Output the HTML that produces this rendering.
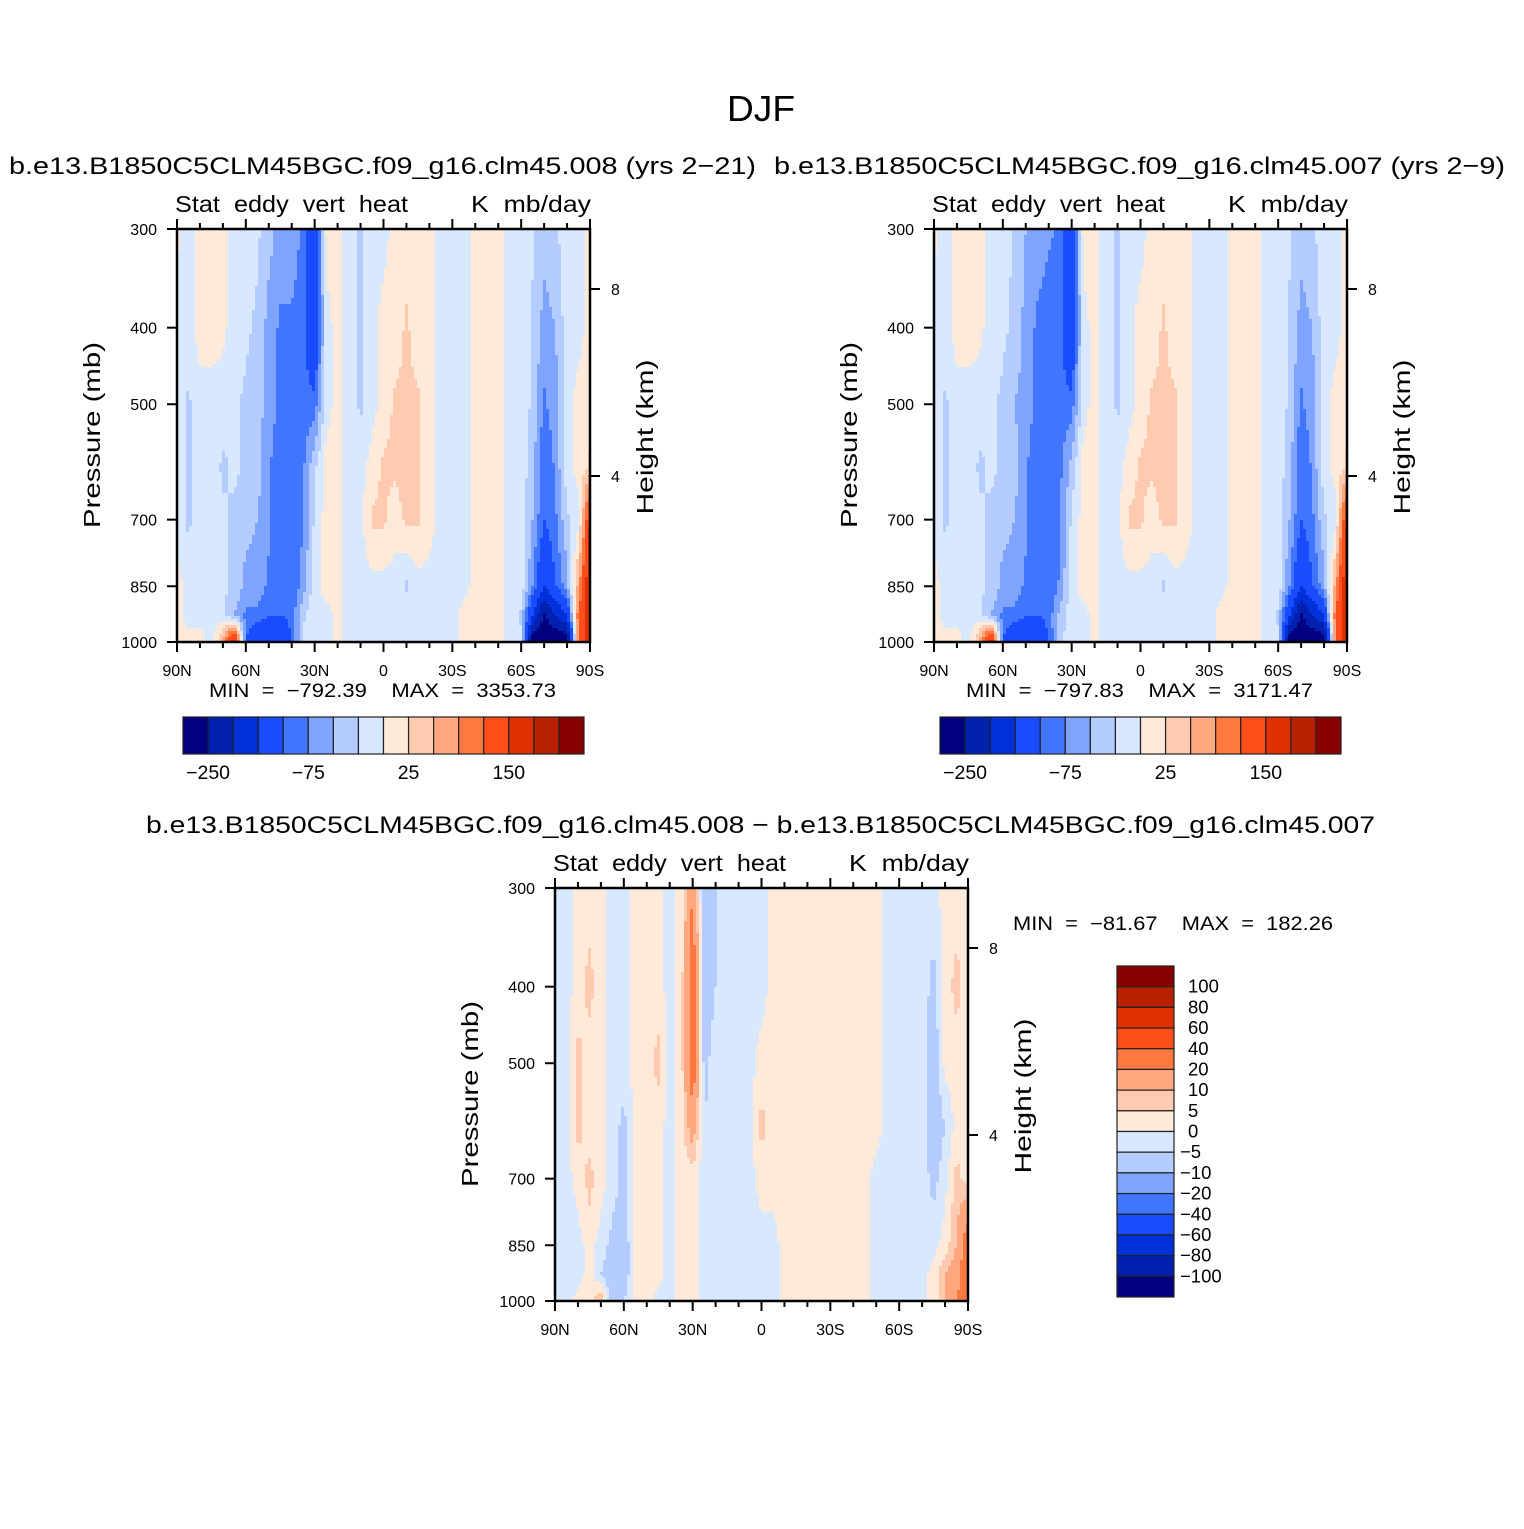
<!DOCTYPE html>
<html><head><meta charset="utf-8">
<style>
body{margin:0;background:#fff;}
svg text{font-family:"Liberation Sans","DejaVu Sans",sans-serif;fill:#000;white-space:pre;}
</style></head>
<body>
<svg id="fig" width="1524" height="1524" viewBox="0 0 1524 1524" xmlns="http://www.w3.org/2000/svg">
<rect width="1524" height="1524" fill="#fff"/>
<text x="761" y="121" font-size="36" text-anchor="middle" textLength="68" lengthAdjust="spacingAndGlyphs">DJF</text>
</svg>
<script>
const lats=[90,85,80,75,70,65,60,55,50,45,40,35,30,25,20,15,10,5,0,-5,-10,-15,-20,-25,-30,-35,-40,-45,-50,-55,-60,-65,-70,-75,-80,-85,-90];
const plevs=[300,400,500,600,700,850,925,1000];
const colors=["#000080","#0020B0","#0030D8","#1A4CFF","#4075FF","#7FA4FF","#B4CCFF","#D7E8FF","#FFE9D8","#FFCAB0","#FFA880","#FF7840","#FF4E1A","#E03000","#B82000","#880000"];
const levelsA=[-250,-200,-150,-100,-75,-50,-25,0,25,50,75,100,150,200,250];
const levelsB=[-100,-80,-60,-40,-20,-10,-5,0,5,10,20,40,60,80,100];
const cbLabelsA=["−250","−75","25","150"];
const cbLabelsB=["100","80","60","40","20","10","5","0","−5","−10","−20","−40","−60","−80","−100"];
const latTicks=["90N","60N","30N","0","30S","60S","90S"];
const pTicks=[300,400,500,700,850,1000];
const hTicks=[8,4];
const field1=[
[5,-10,10,10,10,-10,-10,-20,-40,-60,-60,-80,-150,10,10,-10,-30,-10,-10,10,10,10,10,-10,-10,-10,10,10,10,-10,-10,-20,-40,-30,-10,-10,10],
[-10,-10,10,10,5,-10,-20,-30,-60,-80,-80,-90,-150,-10,10,-10,-30,-10,10,10,30,10,10,-10,-10,-10,10,10,10,-10,-10,-30,-60,-50,-10,-10,10],
[-10,-30,-10,-10,-10,-20,-30,-40,-60,-80,-90,-90,-90,-10,10,-10,-30,-10,10,30,30,30,10,-10,-10,-10,10,10,10,-10,-10,-30,-80,-60,-10,10,10],
[-10,-30,-10,-10,-30,-20,-30,-40,-70,-100,-90,-80,-30,10,10,-10,-10,10,30,30,40,30,10,-10,-10,-10,10,10,10,-10,-10,-40,-100,-70,-10,10,30],
[-10,-30,-10,-10,-20,-30,-40,-50,-70,-100,-90,-80,-20,10,10,-10,-10,30,30,10,30,30,10,-10,-10,-10,10,10,10,-10,-10,-50,-100,-80,-30,-10,150],
[10,-10,-10,-10,-20,-30,-60,-60,-80,-100,-100,-60,-10,10,10,-10,-10,-10,-10,-10,-30,-10,-10,-10,-10,-10,10,10,10,-10,-10,-75,-150,-100,-60,60,200],
[10,-10,-10,-10,-20,-50,-80,-80,-100,-100,-90,-30,-10,-10,10,-10,-10,-10,-10,-10,-10,-10,-10,-10,-10,10,10,10,10,-10,-30,-150,-260,-200,-150,100,200],
[10,10,10,-10,60,200,-100,-150,-150,-150,-100,-20,-10,-10,10,-10,-10,-10,-10,-10,-10,-10,-10,-10,-10,10,10,10,10,-10,-20,-300,-300,-300,-300,100,200]];
const field2=[
[5,-10,10,10,10,-10,-10,-30,-50,-60,-70,-80,-150,10,10,-10,-30,-10,-10,10,10,10,10,-10,-10,-10,10,10,10,-10,-10,-20,-40,-30,-10,-10,10],
[-10,-10,10,10,5,-10,-20,-30,-60,-80,-90,-90,-150,-10,10,-10,-30,-10,10,10,30,10,10,-10,-10,-10,10,10,10,-10,-10,-30,-60,-50,-10,-10,10],
[-10,-30,-10,-10,-10,-20,-30,-50,-60,-80,-90,-90,-90,-10,10,-10,-30,-10,10,30,30,30,10,-10,-10,-10,10,10,10,-10,-10,-30,-80,-60,-10,10,10],
[-10,-30,-10,-10,-30,-20,-30,-40,-70,-100,-90,-80,-40,10,10,-10,-10,10,30,30,40,30,10,-10,-10,-10,10,10,10,-10,-10,-40,-100,-70,-10,10,30],
[-10,-30,-10,-10,-20,-30,-40,-50,-70,-100,-90,-80,-20,10,10,-10,-10,30,30,10,30,30,10,-10,-10,-10,10,10,10,-10,-10,-50,-100,-80,-30,-10,150],
[10,-10,-10,-10,-20,-30,-60,-60,-80,-100,-100,-70,-10,10,10,-10,-10,-10,-10,-10,-30,-10,-10,-10,-10,-10,10,10,10,-10,-10,-75,-150,-100,-60,60,200],
[10,-10,-10,-10,-20,-50,-80,-80,-100,-100,-90,-40,-10,-10,10,-10,-10,-10,-10,-10,-10,-10,-10,-10,-10,10,10,10,10,-10,-30,-150,-260,-200,-150,100,200],
[10,10,10,-10,60,200,-100,-150,-150,-150,-100,-30,-10,-10,10,-10,-10,-10,-10,-10,-10,-10,-10,-10,-10,10,10,10,10,-10,-20,-300,-300,-300,-300,100,200]];
const field3=[
[-2,-2,2,2,2,-2,-2,2,2,2,-2,2,20,-10,-5,-2,-2,-2,-2,2,2,2,2,2,2,2,2,2,2,-2,-2,-2,-2,-2,2,2,2],
[-2,-2,2,7,2,-2,-2,2,2,2,-2,2,30,-10,-5,-2,-2,-2,-2,2,2,2,2,2,2,2,2,2,2,-2,-2,-2,-2,-7,2,7,2],
[-2,-2,7,2,2,-2,-2,2,2,7,-2,2,30,-7,-2,-2,-2,-2,2,2,2,2,2,2,2,2,2,2,2,-2,-2,-2,-2,-10,2,2,2],
[-2,-2,7,2,2,-2,-7,2,2,2,-2,2,15,-5,-2,-2,-2,-2,7,2,2,2,2,2,2,2,2,2,2,-2,-2,-2,-2,-10,-5,2,2],
[-2,-2,2,7,2,-2,-7,2,2,2,-2,2,2,-2,-2,-2,-2,-2,2,2,2,2,2,2,2,2,2,2,-2,-2,-2,-2,-2,-7,-2,7,2],
[-2,-5,-2,2,-2,-7,-10,2,2,2,-2,2,2,-2,-2,-2,-2,-2,-2,-2,2,2,2,2,2,2,2,2,-2,-2,-2,-2,-2,-2,2,10,30],
[-2,-5,-2,2,-5,-10,-10,2,2,2,-2,2,2,-2,-2,-2,-2,-2,-2,-2,2,2,2,2,2,2,2,2,-2,-2,-2,-2,-2,2,10,15,30],
[-2,-2,2,2,10,-10,-5,2,2,-2,-2,2,2,-2,-2,-2,-5,-2,-2,-2,2,2,2,2,2,2,2,2,-2,-2,-2,-2,-2,2,10,20,30]];

const NS="http://www.w3.org/2000/svg";
const svg=document.getElementById('fig');
function mk(tag,attrs,parent){const e=document.createElementNS(NS,tag);for(const k in attrs)e.setAttribute(k,attrs[k]);(parent||svg).appendChild(e);return e;}
function txt(s,x,y,size,anchor,parent,len){const t=mk('text',{x:x,y:y,'font-size':size,'text-anchor':anchor||'start'},parent);if(len){t.setAttribute('textLength',len);t.setAttribute('lengthAdjust','spacingAndGlyphs');}t.textContent=s;return t;}
function cls(v,lev){let i=0;while(i<lev.length&&v>=lev[i])i++;return i;}
function sample(f,lat,p){
  lat=Math.max(-90,Math.min(90,lat));
  let i=0;while(i<lats.length-2&&lat<lats[i+1])i++;
  const tx=(lats[i]-lat)/(lats[i]-lats[i+1]);
  let j=0;while(j<plevs.length-2&&p>plevs[j+1])j++;
  const ty=Math.max(0,Math.min(1,(Math.log(p)-Math.log(plevs[j]))/(Math.log(plevs[j+1])-Math.log(plevs[j]))));
  const a=f[j][i]*(1-tx)+f[j][i+1]*tx, b=f[j+1][i]*(1-tx)+f[j+1][i+1]*tx;
  return a*(1-ty)+b*ty;
}
function panel(name,x0,y0,field,lev,title,titleLen,mm,mmLen){
  const W=413,H=413;
  const g=mk('g',{});
  
  
  const xs=lat=>x0+(90-lat)/180*W;
  const ys=p=>y0+Math.log(p/300)/Math.log(1000/300)*H;
  const yh=h=>y0+247-(h-4)*46.75;
  const field_g=mk('g',{},g);
  
  
  const step=3;
  for(let y=0;y<H;y+=step){
    const p=300*Math.pow(1000/300,(y+step/2)/H);
    let runStart=0,runC=-1;
    for(let x=0;x<W+step;x+=step){
      let c=-2;
      if(x<W){const lat=90-(x+step/2)/W*180;c=cls(sample(field,lat,p),lev);}
      if(c!==runC){
        if(runC>=0){const r=mk('rect',{x:x0+runStart,y:y0+y,width:Math.min(x,W)-runStart+0.6,height:Math.min(step,H-y)+0.6,fill:colors[runC]},field_g);}
        runStart=x;runC=c;
      }
    }
  }
  mk('rect',{x:x0,y:y0,width:W,height:H,fill:'none',stroke:'#000','stroke-width':2.5},g);
  for(let lat=90;lat>=-90;lat-=10){
    const x=xs(lat);const major=lat%30===0;const L=major?10:6;
    mk('line',{x1:x,y1:y0+H,x2:x,y2:y0+H+L,stroke:'#000','stroke-width':2},g);
    mk('line',{x1:x,y1:y0,x2:x,y2:y0-L,stroke:'#000','stroke-width':2},g);
  }
  latTicks.forEach((s,k)=>{const t=txt(s,xs(90-k*30),y0+H+34,16,'middle',g);});
  pTicks.forEach(p=>{const y=ys(p);mk('line',{x1:x0,y1:y,x2:x0-10,y2:y,stroke:'#000','stroke-width':2},g);
    const t=txt(String(p),x0-20,y+6,16,'end',g);});
  hTicks.forEach(h=>{const y=yh(h);mk('line',{x1:x0+W,y1:y,x2:x0+W+10,y2:y,stroke:'#000','stroke-width':2},g);
    const t=txt(String(h),x0+W+21,y+6,16,'start',g);});
  let t=txt('Pressure (mb)',0,0,23,'middle',g,186);t.setAttribute('transform',`translate(${x0-77},${y0+206}) rotate(-90)`);
  
  t=txt('Height (km)',0,0,23,'middle',g,155);t.setAttribute('transform',`translate(${x0+W+63},${y0+208}) rotate(-90)`);
  
  t=txt('Stat  eddy  vert  heat',x0-2,y0-17,23,'start',g,233);
  t=txt('K  mb/day',x0+W+1,y0-17,23,'end',g,120);
  t=txt(title,x0+W/2-1,y0-55,24.5,'middle',g,titleLen);
  if(mm){t=txt(mm,x0+W/2-1,y0+H+55,19.5,'middle',g,mmLen);}
}
panel('panel-case-008',177,229,field1,levelsA,'b.e13.B1850C5CLM45BGC.f09_g16.clm45.008 (yrs 2−21)',747,'MIN  =  −792.39    MAX  =  3353.73',347);
panel('panel-case-007',934,229,field2,levelsA,'b.e13.B1850C5CLM45BGC.f09_g16.clm45.007 (yrs 2−9)',731,'MIN  =  −797.83    MAX  =  3171.47',347);
panel('panel-difference',555,888,field3,levelsB,'b.e13.B1850C5CLM45BGC.f09_g16.clm45.008 − b.e13.B1850C5CLM45BGC.f09_g16.clm45.007',1229,null);
{const t=txt('MIN  =  −81.67    MAX  =  182.26',1013,930,19.5,'start',null,320);}
function hbar(name,x0,y0){
  const g=mk('g',{});
  const bw=401/16;
  colors.forEach((c,i)=>{const r=mk('rect',{x:x0+i*bw,y:y0,width:bw,height:37,fill:c,stroke:'#222','stroke-width':1.2},g);});
  [1,5,9,13].forEach((b,k)=>{const t=txt(cbLabelsA[k],x0+b*bw,y0+62,19.5,'middle',g);});
}
hbar('colorbar-case-008',183,717);
hbar('colorbar-case-007',940,717);
{
  const g=mk('g',{});
  const x0=1117,y0=966,bh=331/16;
  colors.slice().reverse().forEach((c,i)=>{const r=mk('rect',{x:x0,y:y0+i*bh,width:57,height:bh,fill:c,stroke:'#222','stroke-width':1.2},g);});
  cbLabelsB.forEach((s,k)=>{const t=txt(s,s.startsWith('−')?1180:1188,y0+(k+1)*bh+6,18.5,'start',g);});
}
</script>
</body></html>
